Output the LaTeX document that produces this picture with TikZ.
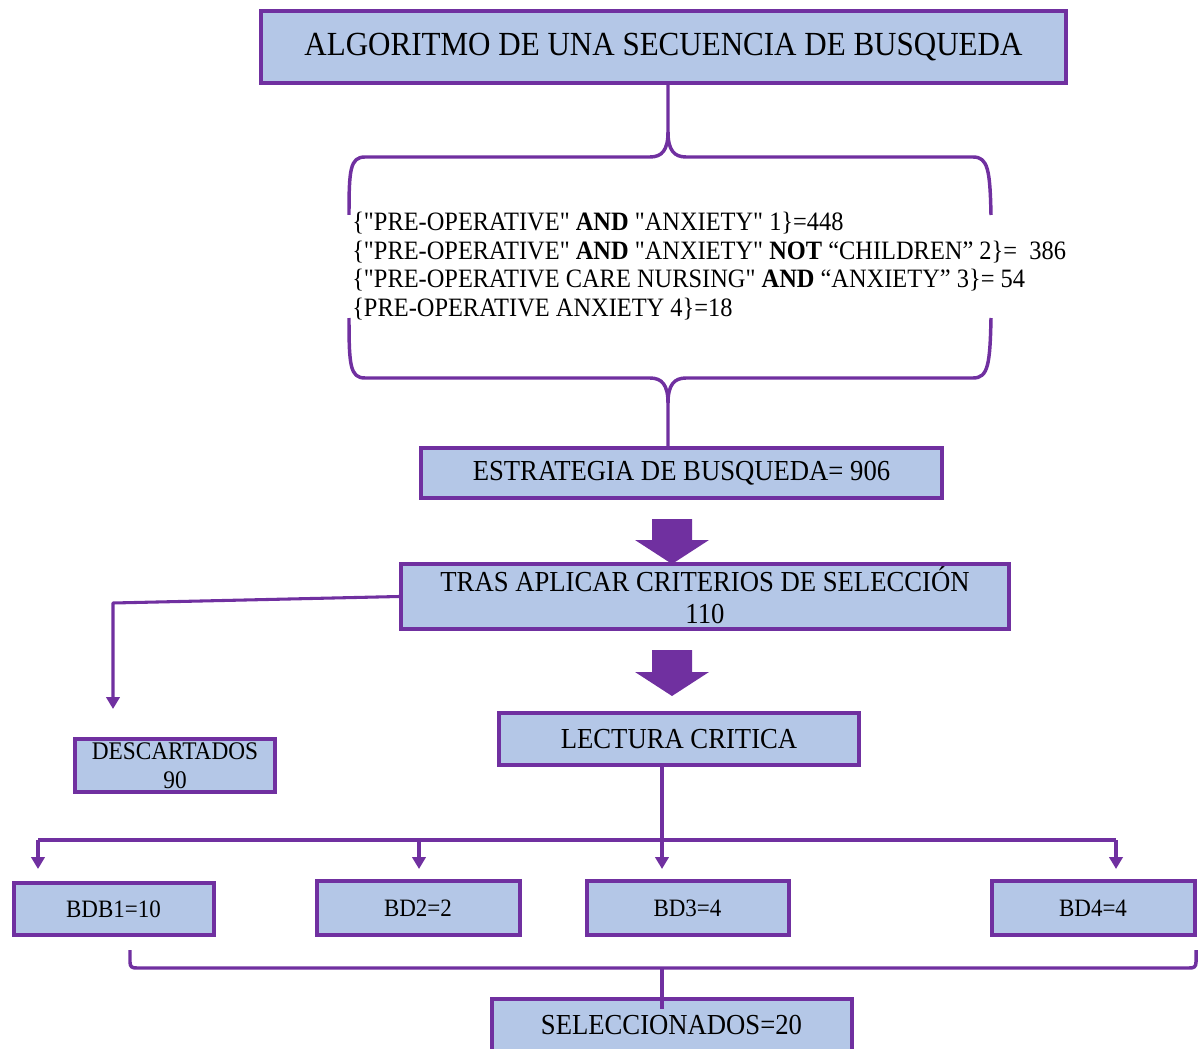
\documentclass[tikz,border=0pt]{standalone}
\usepackage{fontspec}
\setmainfont[FakeStretch=0.92, Ligatures=TeXOff]{Liberation Serif}
\usetikzlibrary{arrows.meta}
\definecolor{boxfill}{HTML}{B4C7E7}
\definecolor{boxline}{HTML}{7030A0}
\tikzset{
  box/.style={draw=boxline, fill=boxfill, line width=3pt, inner sep=0pt, align=center, text=black},
  sz/.style 2 args={minimum width=#1*0.75pt, minimum height=#2*0.75pt},
  conn/.style={draw=boxline, line width=2.3pt, line join=round},
  arr/.style={conn, -{Triangle[length=9pt,width=10pt]}},
  brace/.style={draw=boxline, line width=2.6pt, line join=round},
  blockarrow/.style={fill=boxline},
  bigtxt/.style={font=\fontsize{21.75}{24}\selectfont},
  bdtxt/.style={font=\fontsize{18.75}{21}\selectfont},
}
\begin{document}
\begin{tikzpicture}[x=0.75pt, y=-0.75pt]
\useasboundingbox (0,0) rectangle (1201,1048);
\clip (0,0) rectangle (1201,1048);

% title
\node[box, sz={805}{72}, font=\fontsize{25.3}{28}\selectfont] (title) at (663.5,47) {ALGORITMO DE UNA SECUENCIA DE BUSQUEDA};

% upper brace
\coordinate (tc) at (668,157);
\draw[brace] (349,215) .. controls (349,170) and (350,157) .. (365,157) -- (650,157)
  .. controls (662,157) and (668,150) .. (668,132) -- (tc |- title.south);
\draw[brace] (668,132) .. controls (668,150) and (674,157) .. (686,157) -- (973,157)
  .. controls (988,157) and (990,170) .. (991,215);

% query text
\node[anchor=west, inner sep=0pt, align=left, text=black, font=\fontsize{19.9}{21.4}\selectfont] (query) at (352,266)
 {\{"PRE-OPERATIVE" \textbf{AND} "ANXIETY" 1\}=448\\
  \{"PRE-OPERATIVE" \textbf{AND} "ANXIETY" \textbf{NOT} “CHILDREN” 2\}=\ \ 386\\
  \{"PRE-OPERATIVE CARE NURSING" \textbf{AND} “ANXIETY” 3\}= 54\\
  \{PRE-OPERATIVE ANXIETY 4\}=18};

% strategy box
\node[box, sz={521}{50}, bigtxt] (estr) at (681.5,473) {ESTRATEGIA DE BUSQUEDA= 906};

% lower brace
\coordinate (bc) at (668,378);
\draw[brace] (349,318) .. controls (349,365) and (350,378) .. (365,378) -- (650,378)
  .. controls (662,378) and (668,385) .. (668,403) -- (bc |- estr.north);
\draw[brace] (668,403) .. controls (668,385) and (674,378) .. (686,378) -- (973,378)
  .. controls (988,378) and (990,365) .. (991,318);

% selection box
\node[box, sz={608}{65}, font=\fontsize{21.75}{24}\selectfont] (tras) at (705,596.5) {\raisebox{2.5pt}{TRAS APLICAR CRITERIOS DE SELECCIÓN}\\\raisebox{2.5pt}{110}};

% block arrow 1
\fill[blockarrow] (652,519) -- (692,519) -- (692,540) -- (709,540) -- (672,564) -- (635,540) -- (652,540) -- cycle;

% lectura box
\node[box, sz={360}{52}, bigtxt] (lect) at (679,739) {LECTURA CRITICA};

% block arrow 2
\fill[blockarrow] (652,650) -- (692,650) -- (692,672) -- (709,672) -- (672,696) -- (635,672) -- (652,672) -- cycle;

% descartados
\node[box, sz={200}{53}, font=\fontsize{19}{21.75}\selectfont] (desc) at (175,765.5) {DESCARTADOS\\90};
\coordinate (dk) at (113,603);
\draw[arr] (tras.west) -- (dk) -- (113,709);

% database boxes
\node[box, sz={200}{52}, bdtxt] (bd1) at (113.5,909) {BDB1=10};
\node[box, sz={203}{54}, bdtxt] (bd2) at (418,908) {BD2=2};
\node[box, sz={202}{54}, bdtxt] (bd3) at (687.5,908) {BD3=4};
\node[box, sz={203}{54}, bdtxt] (bd4) at (1093,908) {BD4=4};

% distribution lines
\coordinate (hub) at (662,840);
\draw[conn] (lect.south -| hub) -- (hub);
\draw[conn] (38,840) -- (1116,840);
\draw[arr] (38,840) -- (38,869);
\draw[arr] (419,840) -- (419,869);
\draw[arr] (hub) -- (662,869);
\draw[arr] (1116,840) -- (1116,869);

% bottom bracket
\node[box, sz={360}{52}, bigtxt, anchor=north] (sel) at (671.5,997) {SELECCIONADOS=20};
\draw[brace] (130,950) -- (130,962) .. controls (130,967) and (132,968) .. (137,968) -- (1189,968)
  .. controls (1194,968) and (1196,967) .. (1196,962) -- (1196,950);
\draw[brace] (662,968) -- (662,1009);
\end{tikzpicture}
\end{document}
